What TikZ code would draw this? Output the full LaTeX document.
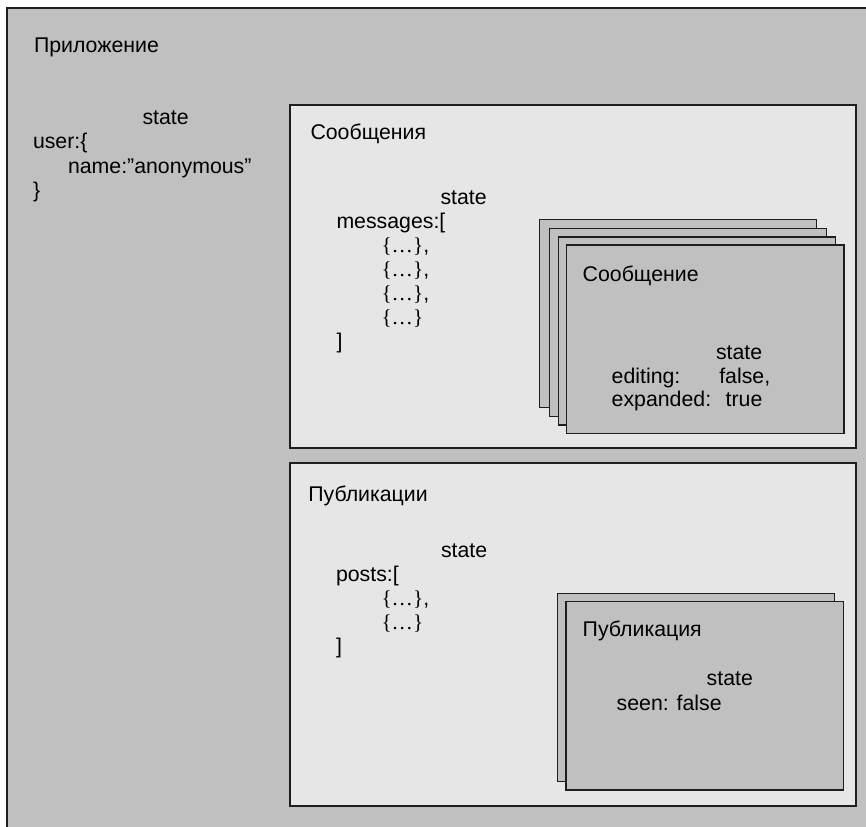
\documentclass[tikz,border=0pt]{standalone}
\usepackage{fontspec}
\setmainfont{Liberation Sans}
\newfontfamily\bracefont{Liberation Serif}
\definecolor{outergray}{HTML}{C0C0C0}
\definecolor{panelgray}{HTML}{E6E6E6}
\definecolor{cardgray}{HTML}{C0C0C0}
\definecolor{edge}{HTML}{1E1E1E}
\tikzset{
  panel/.style={draw=edge, line width=1.2pt, fill=panelgray},
  outerbox/.style={draw=edge, line width=1.2pt, fill=outergray},
  card/.style={draw=edge, line width=1.2pt, fill=cardgray},
  txt/.style={anchor=base west, inner sep=0pt, outer sep=0pt, font=\fontsize{21.3}{24}\selectfont, text=black},
}
\newcommand{\br}[1]{{\bracefont #1}}
\begin{document}
\begin{tikzpicture}[x=1pt,y=-1pt]
\useasboundingbox (0,0) rectangle (866,826);
\clip (0,0) rectangle (866,826);
\fill[white] (0,0) rectangle (866,826);
% outer application box
\draw[outerbox] (7,8) rectangle (885,845);
\node[txt] (appTitle) at (34,52.5) {Приложение};
\node[txt] (appState) at (142.5,124.5) {state};
\node[txt] (appUser) at (33,149) {user:\{};
\node[txt] (appName) at (68,173.3) {name:\char34 anonymous\char34};
\node[txt] (appClose) at (33,197) {\}};

% messages panel
\draw[panel] (290,105) rectangle (856,448);
\node[txt] (msgTitle) at (310.5,139.3) {Сообщения};
\node[txt] (msgState) at (440.5,204.3) {state};
\node[txt] (msgArr) at (336.5,228.3) {messages:[};
\node[txt] (msgI1) at (381.5,252.3) {\br{\{…\}},};
\node[txt] (msgI2) at (381.5,276.3) {\br{\{…\}},};
\node[txt] (msgI3) at (381.5,300.3) {\br{\{…\}},};
\node[txt] (msgI4) at (381.5,324.3) {\br{\{…\}}};
\node[txt] (msgEnd) at (336.5,348.3) {]};

% message cards stack
\draw[card] (539.3,219.3) rectangle (816.7,407.3);
\draw[card] (549.5,228.3) rectangle (826.5,416.3);
\draw[card] (558.3,237) rectangle (835.3,425);
\draw[card] (566.7,245) rectangle (844,433.3);
\node[txt] (cardTitle) at (582.7,281) {Сообщение};
\node[txt] (cardState) at (716,359) {state};
\node[txt] (cardEdit) at (611.7,383.3) {editing:};
\node[txt] (cardEditV) at (719.3,383.3) {false,};
\node[txt] (cardExp) at (611.7,406.7) {expanded:};
\node[txt] (cardExpV) at (725.7,406.7) {true};

% posts panel
\draw[panel] (290,463) rectangle (856,806);
\node[txt] (postTitle) at (308.3,501) {Публикации};
\node[txt] (postState) at (441,557.7) {state};
\node[txt] (postArr) at (336,581.7) {posts:[};
\node[txt] (postI1) at (381.5,605.7) {\br{\{…\}},};
\node[txt] (postI2) at (381.5,629.7) {\br{\{…\}}};
\node[txt] (postEnd) at (336,653.7) {]};

% post cards stack
\draw[card] (557.3,593.3) rectangle (834.7,781.7);
\draw[card] (566,601.7) rectangle (843.3,790);
\node[txt] (pcardTitle) at (582.7,636) {Публикация};
\node[txt] (pcardState) at (706.7,685) {state};
\node[txt] (pcardSeen) at (616.7,710) {seen: false};
\end{tikzpicture}
\end{document}
